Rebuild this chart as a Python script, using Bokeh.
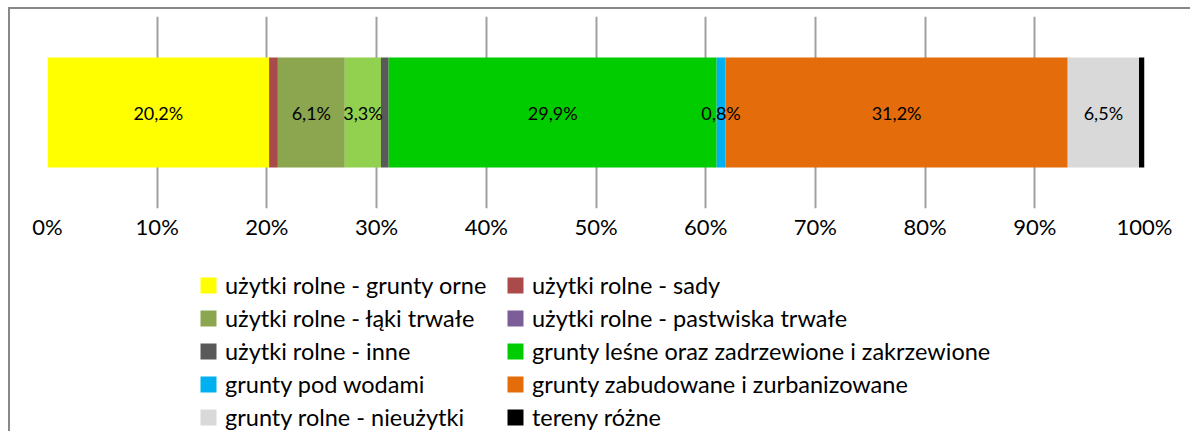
from bokeh.plotting import figure
from bokeh.layouts import column
from bokeh.models import ColumnDataSource, Range1d, FixedTicker, Legend, LegendItem
from bokeh.core.properties import value
from bokeh.embed import file_html
from bokeh.resources import INLINE

categories = [
    "użytki rolne - grunty orne",
    "użytki rolne - sady",
    "użytki rolne - łąki trwałe",
    "użytki rolne - pastwiska trwałe",
    "użytki rolne - inne",
    "grunty leśne oraz zadrzewione i zakrzewione",
    "grunty pod wodami",
    "grunty zabudowane i zurbanizowane",
    "grunty rolne - nieużytki",
    "tereny różne",
]
shares = [20.2, 0.8, 6.1, 3.3, 0.7, 29.9, 0.8, 31.2, 6.5, 0.5]
bar_labels = ["20,2%", "", "6,1%", "3,3%", "", "29,9%", "0,8%", "31,2%", "6,5%", ""]
bar_colors = ["#FFFF00", "#AA4A4B", "#8BA64F", "#92D050", "#595959",
              "#00CC00", "#00B0F0", "#E46C0A", "#D9D9D9", "#000000"]
legend_colors = ["#FFFF00", "#AA4A4B", "#8BA64F", "#7B5E98", "#595959",
                 "#00CC00", "#00B0F0", "#E46C0A", "#D9D9D9", "#000000"]
tick_values = [0, 10, 20, 30, 40, 50, 60, 70, 80, 90, 100]
tick_labels = ["0%", "10%", "20%", "30%", "40%", "50%", "60%", "70%", "80%", "90%", "100%"]

lefts, rights, mids = [], [], []
acc = 0.0
for s in shares:
    lefts.append(acc)
    rights.append(acc + s)
    mids.append(acc + s / 2)
    acc += s

src = ColumnDataSource(dict(y=[0.5] * len(shares), left=lefts, right=rights,
                            mid=mids, color=bar_colors, label=bar_labels))

W = 1180
p = figure(width=W, height=250, output_backend="svg", toolbar_location=None,
           x_range=Range1d(0, 100), y_range=Range1d(0, 1),
           min_border_left=37, min_border_right=46, min_border_top=7,
           min_border_bottom=51)
p.outline_line_color = None
p.background_fill_color = "white"
p.border_fill_color = "white"

p.hbar(y="y", left="left", right="right", height=0.573, fill_color="color",
       line_color=None, source=src)
p.text(x="mid", y="y", text="label", source=src, text_align="center",
       text_baseline="middle", text_font=value("Lato"), text_font_size="18px",
       text_color="black")

p.xaxis.ticker = FixedTicker(ticks=tick_values)
p.xaxis.major_label_overrides = {v: l for v, l in zip(tick_values, tick_labels)}
p.xaxis.axis_line_color = None
p.xaxis.major_tick_line_color = None
p.xaxis.minor_tick_line_color = None
p.xaxis.major_label_text_font = "Lato"
p.xaxis.major_label_text_font_size = "22px"
p.xaxis.major_label_text_color = "black"
p.xaxis.major_label_standoff = -2
p.yaxis.visible = False
p.xgrid.ticker = FixedTicker(ticks=tick_values)
p.xgrid.grid_line_color = "#A0A0A0"
p.xgrid.grid_line_width = 2
p.ygrid.grid_line_color = None

# legend lives in its own figure so it is not clipped by the bar chart's frame
q = figure(width=W, height=172, output_backend="svg", toolbar_location=None,
           x_range=Range1d(0, 1), y_range=Range1d(0, 1),
           x_axis_location=None, y_axis_location=None, min_border=0)
q.outline_line_color = None
q.xgrid.grid_line_color = None
q.ygrid.grid_line_color = None

items = []
for name, col in zip(categories, legend_colors):
    # proxy renderer placed outside the visible range; only its legend swatch shows
    r = q.hbar(y=[-5], left=[0], right=[1], height=0.5, fill_color=col, line_color=None)
    items.append(LegendItem(label=name, renderers=[r]))

legend = Legend(items=items, orientation="horizontal", ncols=2,
                location=(151, -2), margin=0, padding=0, spacing=0,
                glyph_width=20, glyph_height=20, label_height=33, label_width=280,
                label_standoff=7, label_text_font="Lato", label_text_font_size="23.5px",
                label_text_color="black", border_line_color=None,
                background_fill_alpha=0)
q.add_layout(legend, "center")

lay = column(p, q, spacing=0)
lay.styles = {"border-top": "2px solid #888888", "border-left": "2px solid #888888",
              "margin-left": "8px", "margin-top": "7px"}

open("out.html", "w").write(file_html(lay, INLINE))
